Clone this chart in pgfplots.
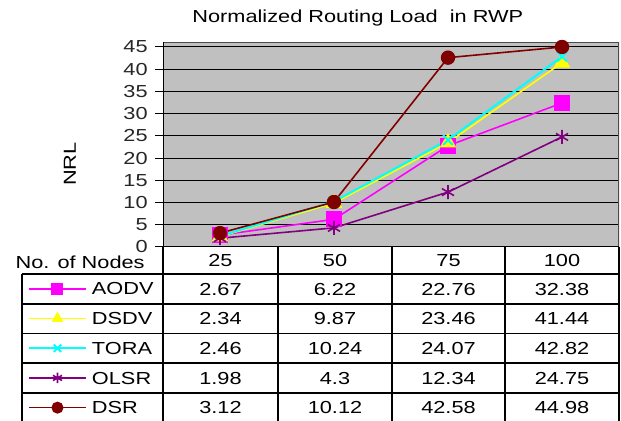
\documentclass[border=0pt]{standalone}
\usepackage{fontspec}
\setmainfont{Liberation Sans}[FakeStretch=1.25]
\usepackage{pgfplots}
\usepackage{pgfplotstable}
\pgfplotsset{compat=1.18}
\newcommand\f{\fontsize{8.7pt}{10.5pt}\selectfont}
\definecolor{bgc}{HTML}{C0C0C0}
\definecolor{caodv}{HTML}{FF00FF}
\definecolor{cdsdv}{HTML}{FFFF00}
\definecolor{ctora}{HTML}{00FFFF}
\definecolor{colsr}{HTML}{800080}
\definecolor{cdsr}{HTML}{800000}
\pgfplotstableread{
n AODV DSDV TORA OLSR DSR
0 2.67 2.34 2.46 1.98 3.12
1 6.22 9.87 10.24 4.3 10.12
2 22.76 23.46 24.07 12.34 42.58
3 32.38 41.44 42.82 24.75 44.98
}\datatable
\begin{document}
\begin{tikzpicture}
\useasboundingbox (0pt,0pt) rectangle (310.5pt,-210.5pt);
\begin{axis}[
  at={(81.5pt,-123.5pt)}, anchor=south west,
  scale only axis, width=228pt, height=102.5pt,
  xmin=-0.5, xmax=3.5, ymin=0, ymax=46.1,
  xtick=\empty, ytick={0,5,...,45},
  ymajorgrids, grid style={black, line width=0.5pt},
  axis background/.style={fill=bgc},
  axis line style={draw=none},
  ytick pos=left, tick align=outside, major tick length=4pt,
  tick style={black, line width=0.5pt},
  /pgf/number format/assume math mode=true,
  yticklabel style={font=\f, text=black!85, inner sep=0.5pt, text height=6pt, text depth=0pt, xshift=-2.8pt},
  line width=0.8pt,
  legend style={at={(-0.2961,-0.1317)}, anchor=north west, draw=none, fill=none,
    inner sep=0pt, outer sep=0pt, row sep=0pt, column sep=2.5pt, font=\f,
    nodes={inner sep=0pt, text height=10.5pt, text depth=4.35pt}},
  legend cell align=left,
  legend image code/.code={\draw[mark repeat=2,mark phase=2,#1, mark size=2.6pt] plot coordinates {(0pt,0pt) (14.25pt,0pt) (28.5pt,0pt)};},
]
\addplot[caodv, mark=square*, mark size=3.6pt] table[x=n,y=AODV] {\datatable};
\addlegendentry{AODV}
\addplot[cdsdv, mark=triangle*, mark size=4pt] table[x=n,y=DSDV] {\datatable};
\addlegendentry{DSDV}
\addplot[ctora, mark=x, mark size=3.5pt, line width=1pt] table[x=n,y=TORA] {\datatable};
\addlegendentry{TORA}
\addplot[colsr, mark=asterisk, mark size=3.5pt] table[x=n,y=OLSR] {\datatable};
\addlegendentry{OLSR}
\addplot[cdsr, mark=*, mark size=3.2pt] table[x=n,y=DSR] {\datatable};
\addlegendentry{DSR}
\draw[gray!60!black, line width=0.6pt] (rel axis cs:0,1) -- (rel axis cs:1,1) -- (rel axis cs:1,0);
\draw[black, line width=0.6pt] (rel axis cs:0,1) -- (rel axis cs:0,0) -- (rel axis cs:1,0);
\end{axis}
\begin{scope}[x=0.5pt, y=-0.5pt]
  \node[font=\f, anchor=base west, inner sep=0pt] at (192,23) {Normalized Routing Load\ \ in RWP};
  \node[font=\f, rotate=90] at (70,164) {NRL};
  \node[font=\f, anchor=base east, inner sep=0pt, text height=6pt] at (145,269) {No. of Nodes};
  \begin{scope}[line width=0.65pt, black]
    \foreach \yy in {274,304,333.5,363,393,422.5} \draw (22,\yy) -- (619,\yy);
    \draw (22,274) -- (22,424);
    \foreach \xx in {163,278,392,505,619} \draw (\xx,247) -- (\xx,424);
  \end{scope}
  \foreach \xx/\t in {220.5/25,335/50,448.5/75,562/100}
    \node[font=\f, anchor=base] at (\xx,266.5) {\t};
  \foreach \yy/\a/\b/\c/\d in {289/2.67/6.22/22.76/32.38, 318.7/2.34/9.87/23.46/41.44, 348.4/2.46/10.24/24.07/42.82, 378/1.98/4.3/12.34/24.75, 407.8/3.12/10.12/42.58/44.98}{
    \node[font=\f, anchor=base] at (220.5,\yy+6.2) {\a};
    \node[font=\f, anchor=base] at (335,\yy+6.2) {\b};
    \node[font=\f, anchor=base] at (448.5,\yy+6.2) {\c};
    \node[font=\f, anchor=base] at (562,\yy+6.2) {\d};
  }
\end{scope}
\end{tikzpicture}
\end{document}
